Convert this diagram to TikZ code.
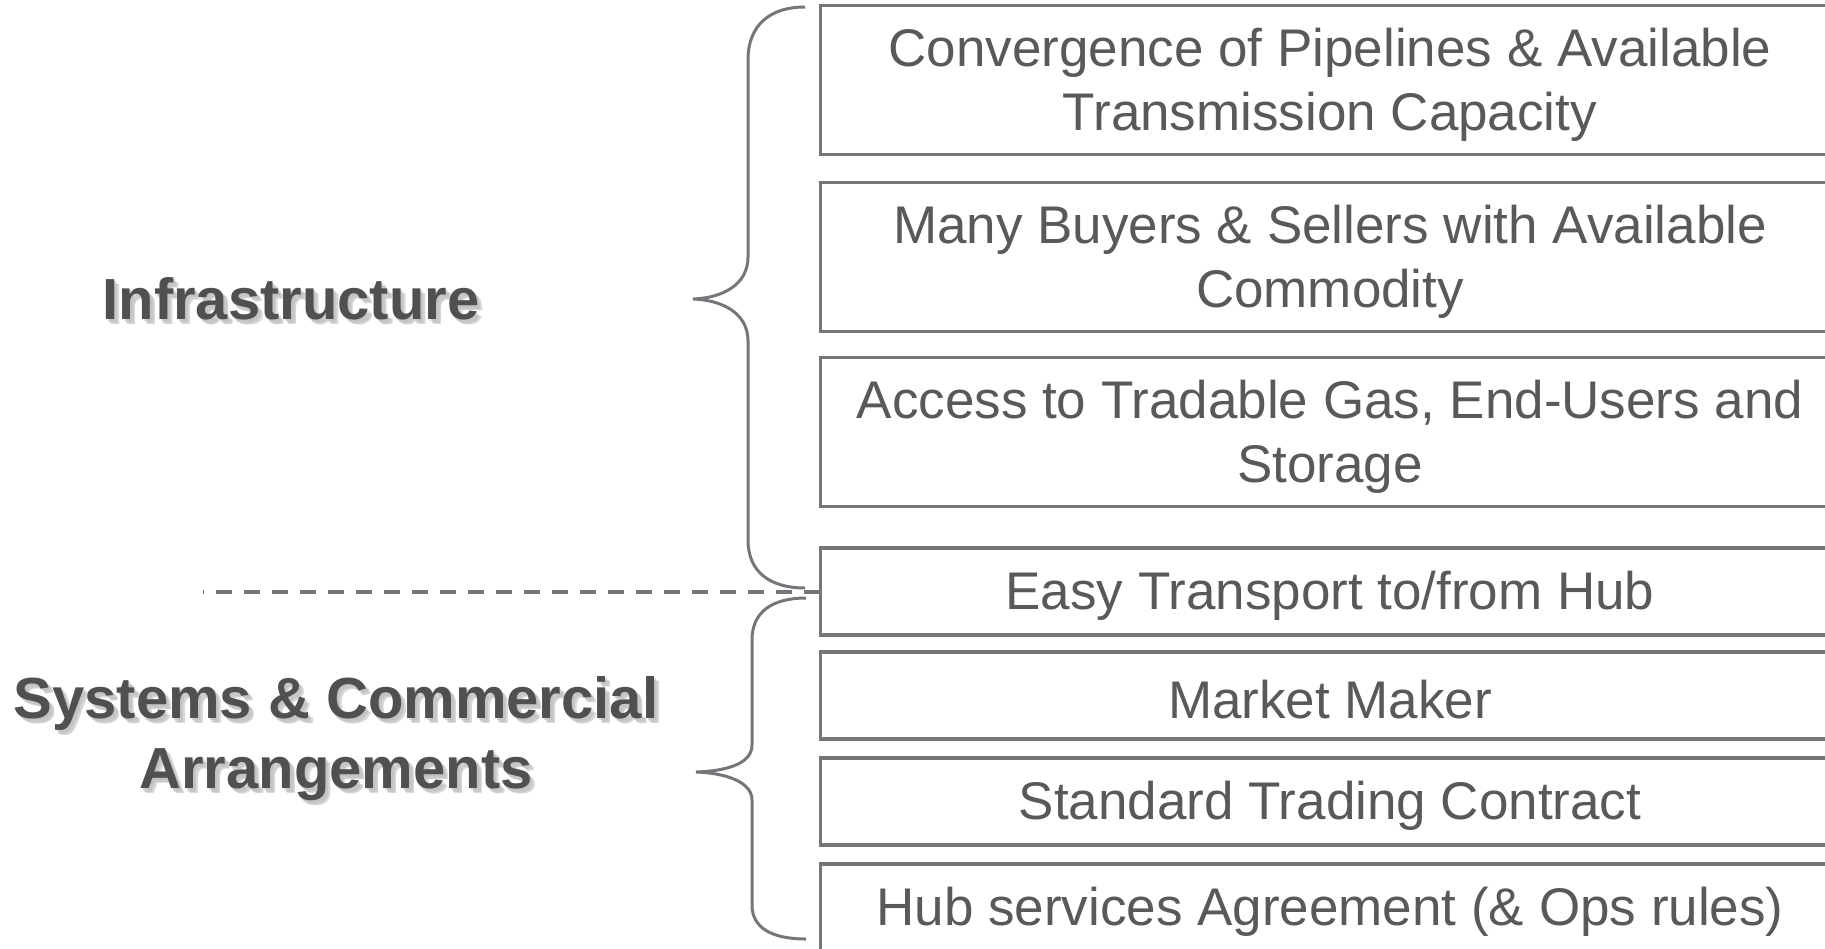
\documentclass[tikz,border=0pt]{standalone}
\usepackage{fontspec}
\setmainfont{Liberation Sans}
\usetikzlibrary{arrows.meta}

\definecolor{linegray}{HTML}{76767A}
\definecolor{textgray}{HTML}{595959}
\definecolor{labelgray}{HTML}{505053}

\tikzset{
  item/.style={draw=linegray, line width=3.5pt, rectangle, inner sep=0pt,
    minimum width=1019pt},
  tall/.style={item, minimum height=149pt},
  short/.style={item, minimum height=87pt},
  itemtext/.style={align=center, text=textgray,
    font=\fontsize{53}{64}\selectfont},
  group/.style={align=center, text=labelgray,
    font=\bfseries\fontsize{58}{70}\selectfont},
  groupshadow/.style={group, text=gray!50, opacity=0.6},
  brace/.style={draw=linegray, line width=3pt}
}

\begin{document}
\begin{tikzpicture}[x=1pt, y=-1pt]

\useasboundingbox (0,0) rectangle (1825,948);
\clip (0,0) rectangle (1825,948);

% Requirement boxes
\node[tall]  (pipes)     at (1330,80)    {};
\node[tall]  (traders)   at (1330,257)   {};
\node[tall]  (access)    at (1330,432)   {};
\node[short] (transport) at (1330,591.5) {};
\node[short] (maker)     at (1330,695.5) {};
\node[short] (contract)  at (1330,801.5) {};
\node[short] (services)  at (1330,907.5) {};

% Box texts
\node[itemtext] at ([yshift=-5pt]pipes.center) {Convergence of Pipelines \& Available\\Transmission Capacity};
\node[itemtext] at ([yshift=-5pt]traders.center) {Many Buyers \& Sellers with Available\\Commodity};
\node[itemtext] at ([yshift=-5pt]access.center) {Access to Tradable Gas, End-Users and\\Storage};
\node[itemtext] at ([yshift=-4pt]transport.center) {Easy Transport to/from Hub};
\node[itemtext] at ([yshift=-4pt]maker.center) {Market Maker};
\node[itemtext] at ([yshift=-4pt]contract.center) {Standard Trading Contract};
\node[itemtext] at ([yshift=-4pt]services.center) {Hub services Agreement (\& Ops rules)};

% Group labels (with a soft drop shadow)
\node[groupshadow] at (293,301) {Infrastructure};
\node[groupshadow] at (294.5,302.5) {Infrastructure};
\node[groupshadow] at (296,304) {Infrastructure};
\node[group] (infra) at (291,299) {Infrastructure};

\node[groupshadow] at (338,741) {Systems \& Commercial\\Arrangements};
\node[groupshadow] at (339.5,742.5) {Systems \& Commercial\\Arrangements};
\node[groupshadow] at (341,744) {Systems \& Commercial\\Arrangements};
\node[group] (systems) at (336,739) {Systems \& Commercial\\Arrangements};

% Braces
\draw[brace] (805,7) .. controls (770,7) and (748,25) .. (748,60)
  -- (748,257) .. controls (748,285) and (722,298) .. (693,299)
  .. controls (722,300) and (748,313) .. (748,341)
  -- (748,540) .. controls (748,572) and (770,588) .. (805,588);

\draw[brace] (806,598) .. controls (772,598) and (752,612) .. (752,640)
  -- (752,745) .. controls (752,764) and (726,771) .. (696,772)
  .. controls (726,773) and (752,782) .. (752,800)
  -- (752,905) .. controls (752,928) and (772,939) .. (806,939);

% Divider between the two groups
\coordinate (divide) at (203,591.5);
\draw[linegray, line width=4pt, dash pattern=on 16pt off 12pt, dash phase=15pt]
  (divide) -- (transport.west);

\end{tikzpicture}
\end{document}
